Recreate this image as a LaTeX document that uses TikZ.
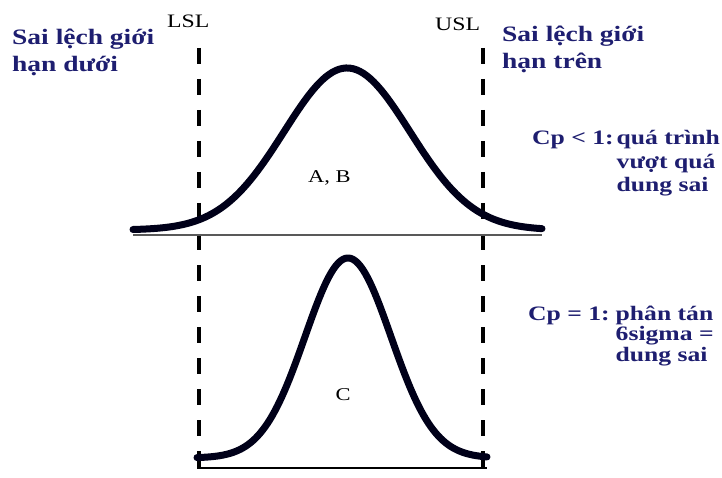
\documentclass[tikz,border=0pt]{standalone}
\usepackage{fontspec}
\setmainfont{Liberation Serif}[FakeStretch=1.25]
\usetikzlibrary{positioning}
\definecolor{navyink}{RGB}{30,30,112}
\tikzset{
  bell/.style={
    line width=7pt,
    line cap=round,
    line join=round,
    color=black!90!blue
  },
  limitline/.style={
    line width=4pt,
    dash pattern=on 16pt off 15pt
  },
  axis/.style={
    line width=2pt,
    draw=black!65
  },
  limitlabel/.style={
    font=\fontsize{19}{22}\selectfont,
    inner sep=0pt
  },
  note/.style={
    font=\bfseries\fontsize{22}{26.5}\selectfont,
    text=navyink,
    inner sep=0pt,
    anchor=base west
  },
  cpnote/.style={
    note,
    font=\bfseries\fontsize{20.5}{23.5}\selectfont
  },
  region/.style={
    font=\fontsize{18}{20}\selectfont,
    inner sep=0pt
  }
}
\begin{document}
\begin{tikzpicture}[x=1pt,y=-1pt]
  \useasboundingbox[fill=white] (0,0) rectangle (722,478);
  % tolerance limits
  \foreach \n/\x in {lsl/199,usl/483}{
    \coordinate (\n top) at (\x,48);
    \coordinate (\n bot) at (\x,478);
    \draw[limitline] (\n top) -- (\n bot);}
  \node[limitlabel, anchor=base west] (lsl) at (167,28) {LSL};
  \node[limitlabel, anchor=base west] (usl) at (435,31) {USL};
  % axes
  \coordinate (axAl) at (133,235); \coordinate (axAr) at (542,235);
  \coordinate (axCl) at (197,468); \coordinate (axCr) at (487,468);
  \draw[axis] (axAl) -- (axAr);
  \draw[axis, draw=black, line width=1.6pt] (axCl) -- (axCr);
  % normal curves
  \draw[bell] plot[domain=133:542, samples=120]
     (\x, {230-162*exp(-0.5*((\x-347)/63)^2)});
  \draw[bell] plot[domain=197:487, samples=120]
     (\x, {458-200*exp(-0.5*((\x-348)/43)^2)});
  \node[region, anchor=base west] (ab) at (308,183) {A, B};
  \node[region, anchor=base] (c) at (343,400) {C};
  % notes
  \node[note] (lower) at (12,45) {\begin{tabular}[t]{@{}l@{}}Sai lệch giới\\hạn dưới\end{tabular}};
  \node[note] (upper) at (502,42) {\begin{tabular}[t]{@{}l@{}}Sai lệch giới\\hạn trên\end{tabular}};
  \node[cpnote] (cpless) at (532,145)
     {\begin{tabular}[t]{@{}l@{\hspace{3pt}}l@{}}Cp < 1:&quá trình\\&vượt quá\\&dung sai\end{tabular}};
  \node[cpnote, font=\bfseries\fontsize{20.5}{20.5}\selectfont] (cpone) at (528,320)
     {\begin{tabular}[t]{@{}l@{\hspace{6pt}}l@{}}Cp = 1:&phân tán\\&6sigma =\\&dung sai\end{tabular}};
\end{tikzpicture}
\end{document}
